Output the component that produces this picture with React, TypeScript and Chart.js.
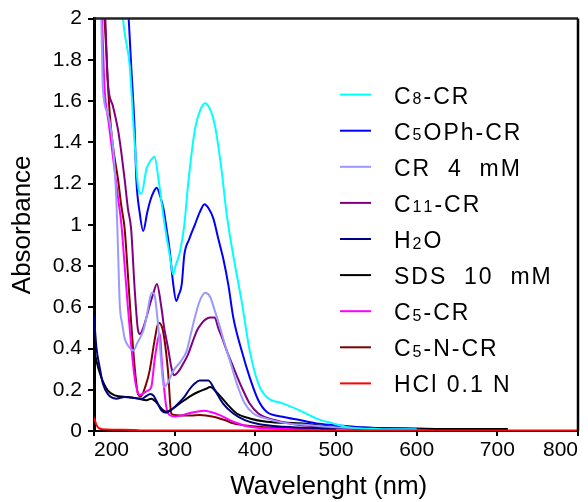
import { useEffect, useRef } from 'react';
import { Chart, registerables } from 'chart.js';

Chart.register(...registerables);

// ---- data (wavelength in nm, absorbance) ----
const wlC8 = [220, 230, 236, 238, 244, 250, 254.5, 258.7, 265, 270, 275, 280, 285, 290, 294, 298, 301, 306.6, 312, 316.5, 325, 332, 338, 345, 350, 358, 364.5, 372.7, 383, 393, 403.7, 414, 434.7, 455, 476, 496, 513, 550, 600];
const absC8 = [3.0, 2.4, 2.0, 1.93, 1.78, 1.42, 1.19, 1.15, 1.27, 1.31, 1.33, 1.22, 1.07, 0.94, 0.85, 0.76, 0.8, 0.87, 1.0, 1.19, 1.46, 1.56, 1.59, 1.55, 1.48, 1.27, 1.05, 0.85, 0.63, 0.39, 0.23, 0.165, 0.133, 0.1, 0.06, 0.037, 0.02, 0.01, 0.008];

const wlC5OPh = [225, 235, 243, 246, 250.4, 252.5, 256.6, 261, 266, 270, 274, 277.7, 282, 286, 290, 294, 298, 302, 305, 308.7, 312, 318, 325, 331, 337, 342, 348, 354, 360, 366.5, 372.7, 383, 393, 403.7, 414, 434, 455, 476, 496.7, 530, 600];
const absC5OPh = [3.0, 2.4, 2.0, 1.78, 1.46, 1.22, 1.06, 0.97, 1.06, 1.12, 1.16, 1.18, 1.14, 1.08, 0.98, 0.87, 0.72, 0.63, 0.66, 0.71, 0.855, 0.93, 1.0, 1.06, 1.1, 1.08, 1.03, 0.934, 0.84, 0.71, 0.55, 0.39, 0.26, 0.149, 0.093, 0.069, 0.053, 0.037, 0.029, 0.018, 0.01];

const wlCR4 = [200, 205, 209, 211, 217, 223.5, 227.6, 229, 230, 232, 235, 238, 243, 248.7, 254, 261, 265, 271.5, 275, 278, 281, 284, 286.5, 291, 298, 308, 315, 320, 325, 331, 338, 344, 350, 355, 360, 368.6, 377, 387, 397.5, 414, 439, 464, 500, 550];
const absCR4 = [2.8, 2.3, 2.0, 1.66, 1.54, 1.38, 1.13, 0.98, 0.85, 0.61, 0.52, 0.45, 0.41, 0.39, 0.43, 0.485, 0.55, 0.67, 0.66, 0.57, 0.45, 0.3, 0.213, 0.23, 0.29, 0.34, 0.39, 0.47, 0.55, 0.63, 0.67, 0.65, 0.58, 0.52, 0.45, 0.34, 0.23, 0.133, 0.085, 0.06, 0.037, 0.029, 0.018, 0.01];

const wlC11 = [200, 207, 214, 217, 223.5, 229.8, 233.9, 238, 242, 246, 250.4, 254.5, 257, 261, 265, 269, 273, 278, 283.5, 287, 291.7, 295.8, 299, 305, 311, 316.5, 322, 328, 333, 338, 344, 349.6, 354, 359, 364.5, 372.7, 383, 393, 403.7, 424, 455, 500, 560];
const absC11 = [2.8, 2.35, 2.0, 1.7, 1.575, 1.46, 1.35, 1.22, 1.08, 0.98, 0.69, 0.49, 0.47, 0.5, 0.55, 0.61, 0.66, 0.713, 0.6, 0.5, 0.405, 0.31, 0.27, 0.29, 0.33, 0.37, 0.43, 0.49, 0.52, 0.54, 0.55, 0.55, 0.5, 0.45, 0.39, 0.31, 0.213, 0.133, 0.085, 0.053, 0.029, 0.018, 0.01];

const wlH2O = [200, 203, 207, 211, 217, 227.6, 238, 250, 260, 265, 270, 274, 277, 283.5, 289.6, 295, 300, 306, 312, 318, 324.8, 331, 341.7, 350, 360, 372.7, 387, 403.7, 434.7, 480, 550];
const absH2O = [0.558, 0.405, 0.31, 0.23, 0.18, 0.157, 0.165, 0.16, 0.157, 0.17, 0.18, 0.17, 0.149, 0.1, 0.088, 0.1, 0.117, 0.14, 0.165, 0.2, 0.23, 0.245, 0.245, 0.197, 0.133, 0.085, 0.053, 0.034, 0.021, 0.014, 0.01];

const wlSDS = [200, 203, 209, 217, 225.6, 242, 254.5, 265, 271, 277, 283.5, 289.6, 298, 305, 312, 320, 329, 339, 343.8, 354, 364.5, 377, 393, 414, 455, 496, 550, 600, 650, 713];
const absSDS = [0.405, 0.34, 0.26, 0.197, 0.173, 0.165, 0.157, 0.149, 0.157, 0.141, 0.109, 0.093, 0.109, 0.13, 0.149, 0.17, 0.189, 0.205, 0.213, 0.18, 0.133, 0.085, 0.061, 0.045, 0.037, 0.021, 0.015, 0.012, 0.01, 0.01];

const wlC5 = [200, 207, 210, 213, 218, 223.5, 229.8, 234, 238, 242, 246, 250, 254, 256.6, 260, 266, 271, 275, 279, 281.8, 284, 289.6, 294, 300, 308, 316.5, 325, 337, 343.8, 356, 372.7, 393, 420, 480];
const absC5 = [2.8, 2.3, 2.0, 1.67, 1.5, 1.33, 1.13, 1.0, 0.8, 0.6, 0.42, 0.27, 0.19, 0.175, 0.18, 0.195, 0.213, 0.34, 0.44, 0.47, 0.34, 0.117, 0.077, 0.07, 0.075, 0.085, 0.092, 0.098, 0.093, 0.077, 0.045, 0.021, 0.012, 0.008];

const wlC5N = [200, 208, 213, 215, 217, 219.5, 223.5, 229.8, 233.9, 236, 238, 242, 246, 250.4, 254.5, 258, 264, 269, 275, 280, 285.5, 291.7, 295.8, 300, 310, 320, 331, 348, 362, 372.7, 393, 414, 450, 500];
const absC5N = [2.8, 2.3, 2.0, 1.86, 1.7, 1.54, 1.38, 1.22, 1.09, 1.04, 0.98, 0.76, 0.53, 0.31, 0.18, 0.168, 0.22, 0.293, 0.437, 0.525, 0.486, 0.293, 0.085, 0.077, 0.075, 0.075, 0.077, 0.069, 0.053, 0.037, 0.024, 0.018, 0.012, 0.008];

const wlHCl = [200, 203, 207, 215, 250, 260, 400, 600, 800];
const absHCl = [0.067, 0.03, 0.012, 0.007, 0.005, 0.002, 0.002, 0.002, 0.002];

const seriesLabels = ['C₈-CR', 'C₅OPh-CR', 'CR  4  mM', 'C₁₁-CR', 'H₂O', 'SDS  10  mM', 'C₅-CR', 'C₅-N-CR', 'HCl 0.1 N'];
const seriesColors = ['#00FFFF', '#0000FF', '#9999FF', '#800080', '#000080', '#000000', '#FF00FF', '#800000', '#FF0000'];
const seriesX = [wlC8, wlC5OPh, wlCR4, wlC11, wlH2O, wlSDS, wlC5, wlC5N, wlHCl];
const seriesY = [absC8, absC5OPh, absCR4, absC11, absH2O, absSDS, absC5, absC5N, absHCl];

const xTickMin = 200;
const xTickMax = 800;
const xTickStep = 100;
const yTickMin = 0;
const yTickMax = 2;
const yTickStep = 0.2;

const FONT = '"Liberation Sans", Arial, sans-serif';
const SUB = '₀₁₂₃₄₅₆₇₈₉';

const legendPlugin = {
  id: 'subLegend',
  afterDraw(chart: any) {
    const { ctx, chartArea } = chart;
    const x0 = chartArea.right - 238;
    const y0 = chartArea.top + 76;
    const rowH = 36.1;
    ctx.save();
    chart.data.datasets.forEach((ds: any, i: number) => {
      const y = y0 + i * rowH;
      ctx.strokeStyle = ds.borderColor;
      ctx.lineWidth = 2;
      ctx.beginPath();
      ctx.moveTo(x0, y);
      ctx.lineTo(x0 + 31, y);
      ctx.stroke();
      let tx = x0 + 54;
      ctx.fillStyle = '#000';
      ctx.textBaseline = 'alphabetic';
      ctx.textAlign = 'left';
      for (const ch of ds.label as string) {
        const si = SUB.indexOf(ch);
        let s = ch;
        if (si >= 0) {
          s = String(si);
          ctx.font = `16px ${FONT}`;
          ctx.fillText(s, tx, y + 9.5);
        } else {
          ctx.font = `23px ${FONT}`;
          ctx.fillText(s, tx, y + 9);
        }
        tx += ctx.measureText(s).width + 2;
      }
    });
    ctx.restore();
  },
};

const framePlugin = {
  id: 'frame',
  afterDatasetsDraw(chart: any) {
    const { ctx, chartArea } = chart;
    ctx.save();
    ctx.strokeStyle = '#222';
    ctx.lineWidth = 2.5;
    ctx.beginPath();
    ctx.moveTo(chartArea.left, chartArea.top);
    ctx.lineTo(chartArea.right, chartArea.top);
    ctx.stroke();
    ctx.strokeStyle = '#000';
    ctx.beginPath();
    ctx.moveTo(chartArea.right, chartArea.top);
    ctx.lineTo(chartArea.right, chartArea.bottom);
    ctx.stroke();
    ctx.restore();
  },
};

export default function App() {
  const ref = useRef<HTMLCanvasElement>(null);
  useEffect(() => {
    document.body.style.margin = '0';
    const canvas = ref.current!;
    const chart = new Chart(canvas, {
      type: 'line',
      data: {
        datasets: seriesLabels.map((label, i) => ({
          label,
          data: seriesX[i].map((x, j) => ({ x, y: seriesY[i][j] })),
          borderColor: seriesColors[i],
          backgroundColor: seriesColors[i],
          borderWidth: 2,
          pointRadius: 0,
          cubicInterpolationMode: 'monotone' as const,
          fill: false,
          order: i === 8 ? -1 : i,
        })),
      },
      options: {
        animation: false,
        responsive: false,
        layout: { padding: { left: 0, right: 10, top: 13, bottom: 0 } },
        plugins: { legend: { display: false }, tooltip: { enabled: false } },
        scales: {
          x: {
            type: 'linear',
            min: xTickMin,
            max: xTickMax,
            afterFit: (s: any) => { s.height = 71; },
            ticks: {
              stepSize: xTickStep,
              align: 'inner',
              color: '#000',
              padding: 2,
              font: { family: FONT, size: 21 },
            },
            grid: { drawOnChartArea: false, drawTicks: true, tickLength: 5, color: '#000', lineWidth: 2 },
            border: { display: true, color: '#000', width: 2 },
            title: {
              display: true,
              text: 'Wavelenght (nm)  ',
              color: '#000',
              font: { family: FONT, size: 26 },
              padding: { top: 0, bottom: 0 },
            },
          },
          y: {
            type: 'linear',
            min: yTickMin,
            max: yTickMax,
            afterFit: (s: any) => { s.width = 94; },
            ticks: {
              stepSize: yTickStep,
              color: '#000',
              padding: 6,
              font: { family: FONT, size: 21 },
              callback: (v: any) => String(Number(Number(v).toFixed(1))),
            },
            grid: { drawOnChartArea: false, drawTicks: true, tickLength: 6, color: '#000', lineWidth: 2 },
            border: { display: true, color: '#000', width: 3 },
            title: {
              display: true,
              text: 'Absorbance',
              color: '#000',
              font: { family: FONT, size: 26 },
              padding: { top: 7, bottom: 0 },
            },
          },
        },
      },
      plugins: [framePlugin, legendPlugin],
    });
    return () => chart.destroy();
  }, []);
  return (
    <div style={{ position: 'absolute', left: 0, top: 0, width: 588, height: 502 }}>
      <canvas ref={ref} width={588} height={502} />
    </div>
  );
}
